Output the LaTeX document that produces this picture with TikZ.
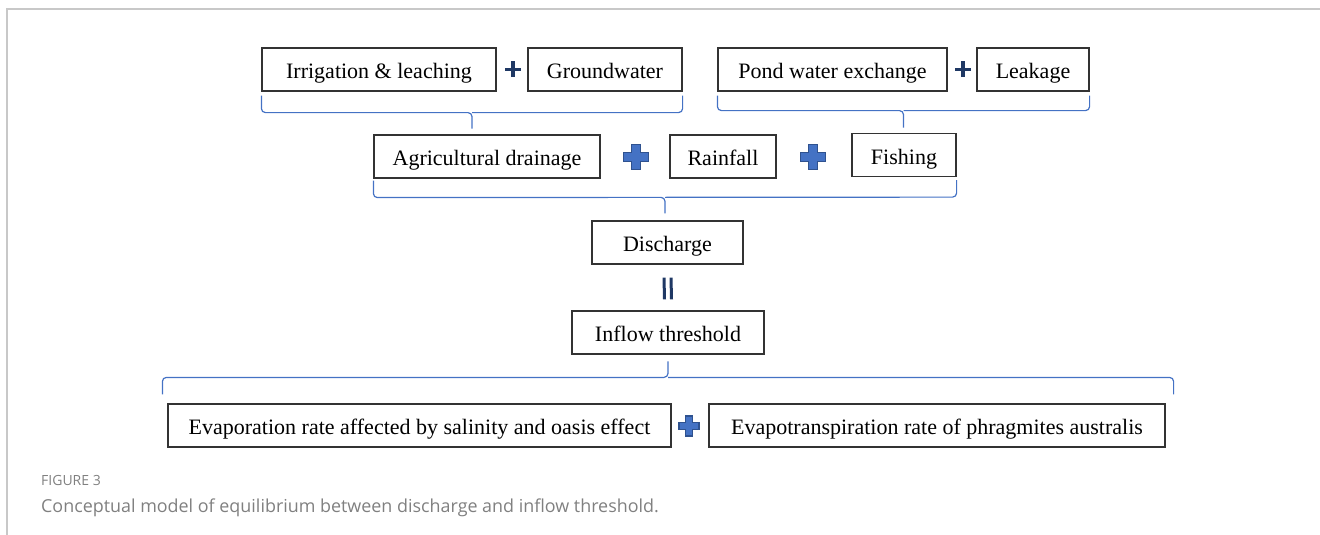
\documentclass[tikz,border=0pt]{standalone}
\usepackage{fontspec}
\setmainfont{Liberation Serif}
\newfontfamily\captionfont{Open Sans}
\usetikzlibrary{calc}
\definecolor{bracecol}{HTML}{4472C4}
\definecolor{navy}{HTML}{1F3864}
\definecolor{crossfill}{HTML}{4472C4}
\definecolor{crossedge}{HTML}{2F528F}
\definecolor{framecol}{HTML}{C8C8C8}
\definecolor{capcol}{HTML}{808080}
\tikzset{
  box/.style={draw=black!80, line width=1.2pt, minimum height=43pt, inner sep=0pt,
    text height=18pt, text depth=0pt, font=\fontsize{22}{26}\selectfont},
  bracepath/.style={draw=bracecol, line width=1.2pt, rounded corners=4pt},
  bluecross/.pic={
    \filldraw[fill=crossfill, draw=crossedge, line width=1.5pt]
      (-0.35,-1) -- (0.35,-1) -- (0.35,-0.35) -- (1,-0.35) -- (1,0.35) -- (0.35,0.35)
      -- (0.35,1) -- (-0.35,1) -- (-0.35,0.35) -- (-1,0.35) -- (-1,-0.35) -- (-0.35,-0.35) -- cycle;
  },
  navyplus/.pic={\draw[navy, line width=3.5pt] (-8,0) -- (8,0) (0,-8) -- (0,8);},
  caption/.style={anchor=base west, inner sep=0pt, text=capcol}
}
\begin{document}
\begin{tikzpicture}[x=1pt, y=-1pt]
  \useasboundingbox (0,0) rectangle (1320,535);
  \draw[framecol, line width=2pt] (7,535) -- (7,9) -- (1320,9);

  % first level
  \node[box, minimum width=234pt] (irr) at (379,69.5) {Irrigation \& leaching};
  \node[box, minimum width=154pt] (gw) at (605,69.5) {Groundwater};
  \node[box, minimum width=229pt] (pond) at (832.5,69.5) {Pond water exchange};
  \node[box, minimum width=112pt] (leak) at (1033,69.5) {Leakage};
  \pic at (513,69.5) {navyplus};
  \pic at (963,69.5) {navyplus};

  % second level
  \node[box, minimum width=226pt] (agri) at (487,156.5) {Agricultural drainage};
  \node[box, minimum width=106pt] (rain) at (723,156.5) {Rainfall};
  \node[box, minimum width=104pt] (fish) at (904,155) {Fishing};
  \pic[scale=12.5] at (636,157) {bluecross};
  \pic[scale=12.5] at (813,157) {bluecross};

  \node[box, minimum width=151pt] (dis) at (667.5,242.5) {Discharge};
  \node[box, minimum width=192pt] (inflow) at (668,332.5) {Inflow threshold};

  \node[box, minimum width=503pt] (evap) at (419.5,425.5) {Evaporation rate affected by salinity and oasis effect};
  \node[box, minimum width=456pt] (evapot) at (937,425.5) {Evapotranspiration rate of phragmites australis};
  \pic[scale=10] at (689,426) {bluecross};

  % equals sign
  \draw[navy, line width=3pt] ([xshift=-3.5pt, yshift=-13pt]dis.south) -- ([xshift=-3.5pt, yshift=11pt]inflow.north);
  \draw[navy, line width=3pt] ([xshift=3.5pt, yshift=-13pt]dis.south) -- ([xshift=3.5pt, yshift=11pt]inflow.north);

  % braces
  \coordinate (b1l) at ([yshift=-4pt]irr.south west);
  \coordinate (b1r) at ([yshift=-4pt]gw.south east);
  \draw[bracepath] (b1l) -- ++(0,17) -- ($(b1l)!.5!(b1r)+(0,17)$) -- ++(0,16);
  \draw[bracepath] ($(b1l)!.5!(b1r)+(0,17)$) -- ($(b1r)+(0,17)$) -- (b1r);

  \coordinate (b2l) at ([yshift=-4pt]pond.south west);
  \coordinate (b2r) at ([yshift=-4pt]leak.south east);
  \draw[bracepath] (b2l) -- ++(0,15) -- ($(b2l)!.5!(b2r)+(0,15)$) -- ++(0,17);
  \draw[bracepath] ($(b2l)!.5!(b2r)+(0,15)$) -- ($(b2r)+(0,15)$) -- (b2r);

  \coordinate (b3l) at ([yshift=-2pt]agri.south west);
  \coordinate (b3r) at ([yshift=-3pt]fish.south east);
  \draw[bracepath] (b3l) -- ++(0,17) -- ($(b3l)!.5!(b3r)+(0,17)$) -- ++(0,16);
  \draw[bracepath] ($(b3l)!.5!(b3r)+(0,17)$) -- ($(b3r)+(0,17)$) -- (b3r);

  \coordinate (b4l) at ([xshift=-5pt, yshift=9pt]evap.north west);
  \coordinate (b4r) at ([xshift=8pt, yshift=9pt]evapot.north east);
  \draw[bracepath] (b4l) -- ++(0,-17) -- ($(b4l)!.5!(b4r)+(0,-17)$) -- ++(0,-16);
  \draw[bracepath] ($(b4l)!.5!(b4r)+(0,-17)$) -- ($(b4r)+(0,-17)$) -- (b4r);

  % caption
  \node[caption, font=\captionfont\fontsize{14}{16}\selectfont] (figlabel) at (41,485) {FIGURE 3};
  \node[caption, font=\captionfont\fontsize{17.9}{20}\selectfont] (figtext) at (41,512)
    {Conceptual model of equilibrium between discharge and inflow threshold.};
\end{tikzpicture}
\end{document}
